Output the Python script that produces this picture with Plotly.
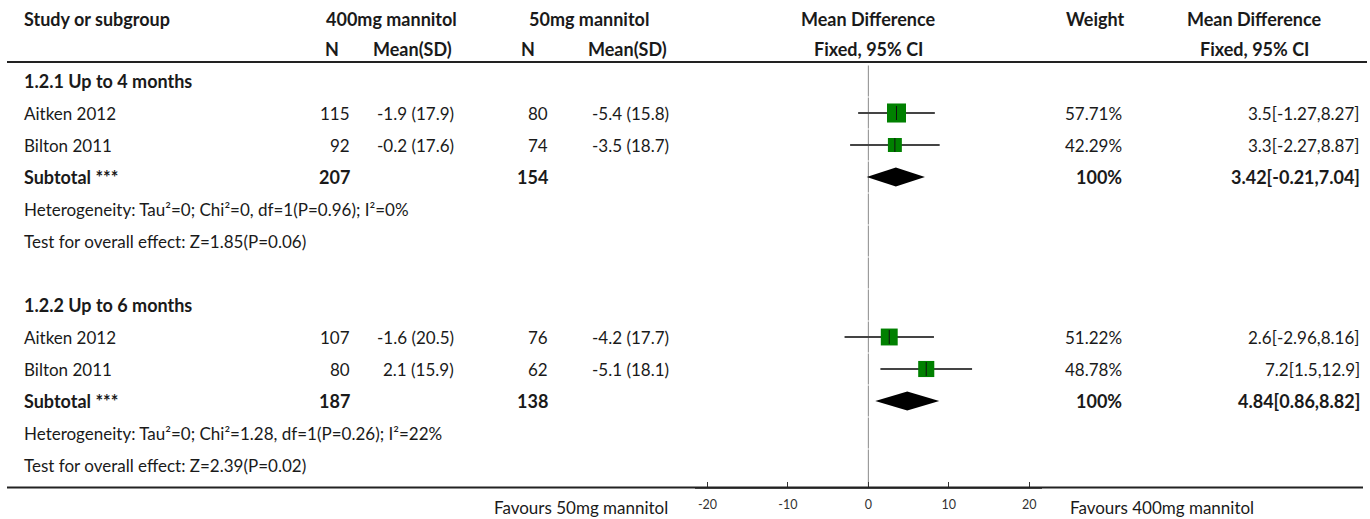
import plotly.graph_objects as go

W, H = 1370, 519

# ---- data -------------------------------------------------------------
study_names = ["Aitken 2012", "Bilton 2011", "Aitken 2012", "Bilton 2011"]
study_group = [0, 0, 1, 1]
n_400 = [115, 92, 107, 80]
mean_sd_400 = ["-1.9 (17.9)", "-0.2 (17.6)", "-1.6 (20.5)", "2.1 (15.9)"]
n_50 = [80, 74, 76, 62]
mean_sd_50 = ["-5.4 (15.8)", "-3.5 (18.7)", "-4.2 (17.7)", "-5.1 (18.1)"]
md = [3.5, 3.3, 2.6, 7.2]
ci_low = [-1.27, -2.27, -2.96, 1.5]
ci_high = [8.27, 8.87, 8.16, 12.9]
weights = [57.71, 42.29, 51.22, 48.78]

subgroup_titles = ["1.2.1 Up to 4 months", "1.2.2 Up to 6 months"]
sub_n_400 = [207, 187]
sub_n_50 = [154, 138]
sub_md = [3.42, 4.84]
sub_low = [-0.21, 0.86]
sub_high = [7.04, 8.82]
sub_weight = [100, 100]
heterogeneity = [
    "Heterogeneity: Tau²=0; Chi²=0, df=1(P=0.96); I²=0%",
    "Heterogeneity: Tau²=0; Chi²=1.28, df=1(P=0.26); I²=22%",
]
overall_effect = [
    "Test for overall effect: Z=1.85(P=0.06)",
    "Test for overall effect: Z=2.39(P=0.02)",
]

tick_vals = [-20, -10, 0, 10, 20]
tick_text = ["-20", "-10", "0", "10", "20"]
x_range = [-21.56, 21.56]
left_label = "Favours 50mg mannitol"
right_label = "Favours 400mg mannitol"

# ---- layout constants (pixels) -----------------------------------------
FONT = "Lato"
FS = 17
FS_BOLD = 18
TXT = "#1a1a1a"
ROW0, PITCH = 81, 32
X_STUDY = 22
X_N400, X_M400 = 352, 456
X_N50, X_M50 = 550, 671
X_FOREST = 868
X_WEIGHT = 1124
X_MDTXT = 1362
AX_L, AX_R = 695, 1041.7
AX_Y = 487.5
CLEAR = "rgba(0,0,0,0)"


def fmt_ci(m, lo, hi):
    return f"{m:g}[{lo:g},{hi:g}]"


# build the row list
rows = []
for g in range(2):
    rows.append(("title", g))
    for i, sg in enumerate(study_group):
        if sg == g:
            rows.append(("study", i))
    rows.append(("subtotal", g))
    rows.append(("het", g))
    rows.append(("overall", g))
    if g == 0:
        rows.append(("blank", g))

row_y = [ROW0 + PITCH * k for k in range(len(rows))]

annotations = []


def txt(x, y, s, anchor="left", bold=False, size=None, color=TXT):
    if size is None:
        size = FS_BOLD if bold else FS
    annotations.append(dict(
        x=x, y=y, xref="x2", yref="y", text=f"<b>{s}</b>" if bold else s,
        showarrow=False, xanchor=anchor, yanchor="middle",
        font=dict(family=FONT, size=size, color=color),
    ))


# header
txt(X_STUDY, 19, "Study or subgroup", bold=True)
txt(391, 19, "400mg mannitol", "center", bold=True)
txt(589, 19, "50mg mannitol", "center", bold=True)
txt(X_FOREST, 19, "Mean Difference", "center", bold=True)
txt(1095, 19, "Weight", "center", bold=True)
txt(1254, 19, "Mean Difference", "center", bold=True)
txt(332, 49, "N", "center", bold=True)
txt(412, 49, "Mean(SD)", "center", bold=True)
txt(528, 49, "N", "center", bold=True)
txt(627, 49, "Mean(SD)", "center", bold=True)
txt(X_FOREST, 49, "Fixed, 95% CI", "center", bold=True)
txt(1254, 49, "Fixed, 95% CI", "center", bold=True)

ci_x, ci_y = [], []
sq_x, sq_y, sq_s = [], [], []
diamonds = []
for (kind, idx), y in zip(rows, row_y):
    if kind == "title":
        txt(X_STUDY, y, subgroup_titles[idx], bold=True)
    elif kind == "study":
        txt(X_STUDY, y, study_names[idx])
        txt(X_N400, y, str(n_400[idx]), "right")
        txt(X_M400, y, mean_sd_400[idx], "right")
        txt(X_N50, y, str(n_50[idx]), "right")
        txt(X_M50, y, mean_sd_50[idx], "right")
        txt(X_WEIGHT, y, f"{weights[idx]:.2f}%", "right")
        txt(X_MDTXT, y, fmt_ci(md[idx], ci_low[idx], ci_high[idx]), "right")
        ci_x += [ci_low[idx], ci_high[idx], None]
        ci_y += [y, y, None]
        sq_x.append(md[idx])
        sq_y.append(y)
        sq_s.append(weights[idx] * 0.33)
    elif kind == "subtotal":
        txt(X_STUDY, y, "Subtotal ***", bold=True)
        txt(X_N400, y, str(sub_n_400[idx]), "right", bold=True)
        txt(X_N50, y, str(sub_n_50[idx]), "right", bold=True)
        txt(X_WEIGHT, y, f"{sub_weight[idx]}%", "right", bold=True)
        txt(X_MDTXT, y, fmt_ci(sub_md[idx], sub_low[idx], sub_high[idx]), "right", bold=True)
        diamonds.append((sub_low[idx], sub_md[idx], sub_high[idx], y))
    elif kind == "het":
        txt(X_STUDY, y, heterogeneity[idx])
    elif kind == "overall":
        txt(X_STUDY, y, overall_effect[idx])

# bottom favour labels
txt(670, 507, left_label, "right")
txt(1068, 507, right_label, "left")

fig = go.Figure()

# zero line, one segment per table row
zx, zy = [], []
for y in row_y:
    top, bot = y - 15.5, y + 15.5
    if y == row_y[-1]:
        bot = AX_Y - 1
    zx += [0, 0, None]
    zy += [top, bot, None]
fig.add_trace(go.Scatter(x=zx, y=zy, mode="lines", xaxis="x", yaxis="y",
                         line=dict(color="#8a8a8a", width=1), hoverinfo="skip"))

# confidence intervals
fig.add_trace(go.Scatter(x=ci_x, y=ci_y, mode="lines", xaxis="x", yaxis="y",
                         line=dict(color="#444444", width=2), hoverinfo="skip"))
# weighted squares
fig.add_trace(go.Scatter(x=sq_x, y=sq_y, mode="markers", xaxis="x", yaxis="y",
                         marker=dict(symbol="square", size=sq_s, color="#008000",
                                     opacity=1, line=dict(width=0)),
                         hoverinfo="skip"))
# point estimate tick
fig.add_trace(go.Scatter(x=sq_x, y=sq_y, mode="markers", xaxis="x", yaxis="y",
                         marker=dict(symbol="line-ns", size=10, opacity=1,
                                     line=dict(color="#111111", width=1)),
                         hoverinfo="skip"))
# pooled diamonds
for lo, m, hi, y in diamonds:
    fig.add_trace(go.Scatter(x=[lo, m, hi, m, lo], y=[y, y - 9.5, y, y + 9.5, y],
                             mode="lines", fill="toself", fillcolor="#000000",
                             line=dict(width=0, color="#000000"),
                             xaxis="x", yaxis="y", hoverinfo="skip"))

shapes = [
    dict(type="line", xref="x2", yref="y", x0=7, x1=1367, y0=62, y1=62,
         line=dict(color="#222222", width=2)),
    dict(type="line", xref="x2", yref="y", x0=7, x1=1363, y0=AX_Y, y1=AX_Y,
         line=dict(color="#222222", width=2), layer="below"),
]

fig.update_layout(
    width=W, height=H,
    margin=dict(l=0, r=0, t=0, b=0),
    paper_bgcolor="white", plot_bgcolor=CLEAR,
    showlegend=False,
    annotations=annotations,
    shapes=shapes,
    xaxis=dict(domain=[AX_L / W, AX_R / W], range=x_range, anchor="free",
               position=1 - AX_Y / H, showgrid=False, zeroline=False,
               showline=True, linecolor="#555555", linewidth=2,
               ticks="inside", ticklen=5, tickwidth=1, tickcolor="#333333",
               tickvals=tick_vals, ticktext=tick_text, ticklabelstandoff=5,
               tickfont=dict(family=FONT, size=12.5, color="#333333"),
               fixedrange=True),
    xaxis2=dict(domain=[0, 1], range=[0, W], visible=False, anchor="y",
                fixedrange=True),
    yaxis=dict(domain=[0, 1], range=[H, 0], visible=False, fixedrange=True),
)

fig.write_html("out.html")
